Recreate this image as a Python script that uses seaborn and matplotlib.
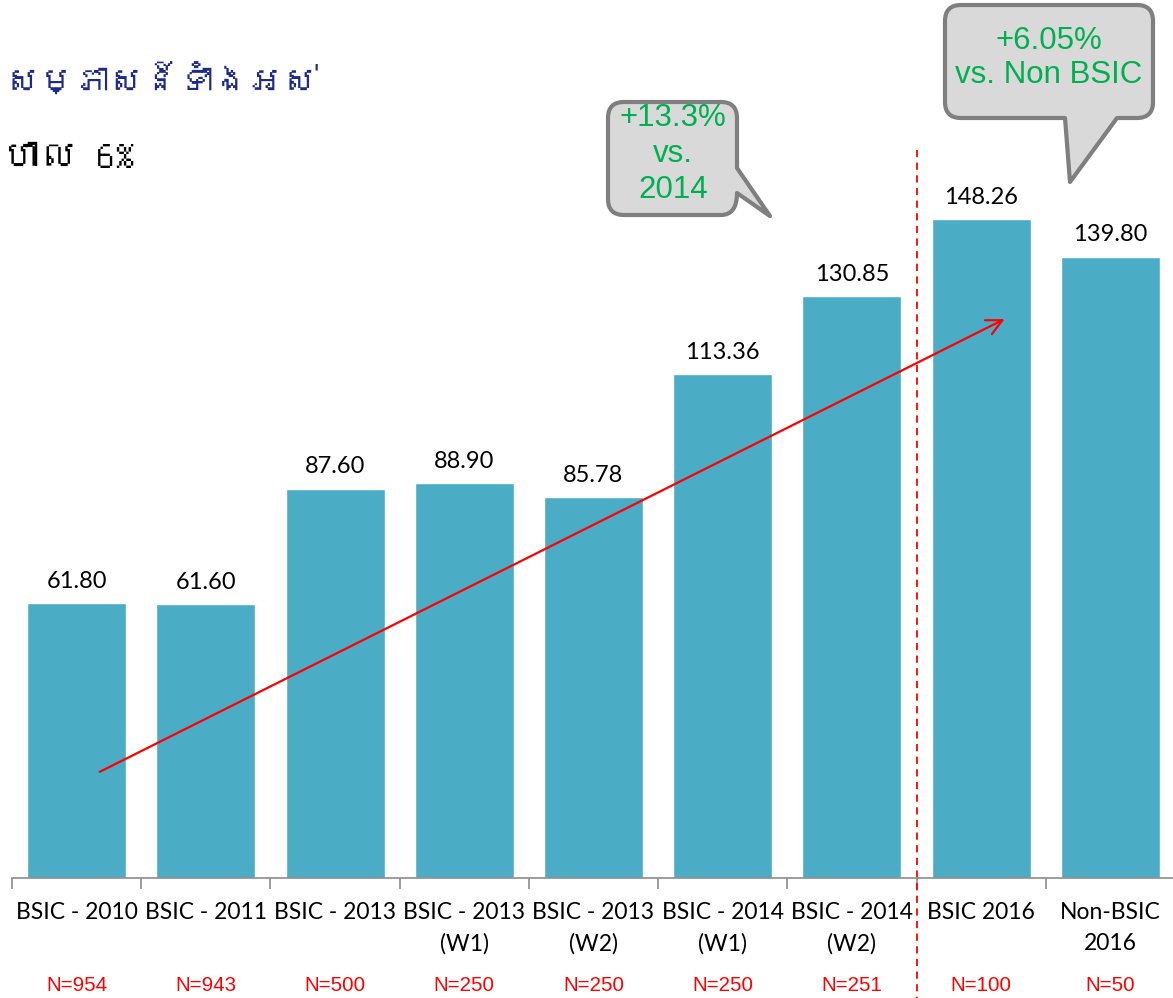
import numpy as np
import pandas as pd
import matplotlib
matplotlib.use("Agg")
import matplotlib.pyplot as plt
import seaborn as sns
from matplotlib import font_manager
from matplotlib.path import Path
from matplotlib.patches import PathPatch
from matplotlib.ft2font import FT2Font

# ---------------- data ----------------
categories = ["BSIC - 2010", "BSIC - 2011", "BSIC - 2013", "BSIC - 2013\n(W1)",
              "BSIC - 2013\n(W2)", "BSIC - 2014\n(W1)", "BSIC - 2014\n(W2)",
              "BSIC 2016", "Non-BSIC\n2016"]
values = [61.80, 61.60, 87.60, 88.90, 85.78, 113.36, 130.85, 148.26, 139.80]
sample_sizes = ["N=954", "N=943", "N=500", "N=250", "N=250", "N=250", "N=251", "N=100", "N=50"]
title_line1 = "សម្ភាសន៍ទាំងអស់"
title_line2 = "ហាល 6%"
callout1 = "+13.3%\nvs.\n2014"
callout2 = "+6.05%\nvs. Non BSIC"

# ---------------- fonts ----------------
sns.set_theme(style="white")
khmer_family = None
for f in font_manager.fontManager.ttflist:
    try:
        if 0x179F in FT2Font(f.fname).get_charmap():
            khmer_family = f.name
            break
    except Exception:
        pass
base_fam = ["Lato", "DejaVu Sans"]
kh_fam = ([khmer_family] if khmer_family else []) + ["DejaVu Sans"]
arial_fam = ["Liberation Sans", "DejaVu Sans"]
plt.rcParams["font.family"] = base_fam

W, H = 1173, 998
fig = plt.figure(figsize=(W / 100, H / 100), dpi=100)
ax = fig.add_axes([12 / W, 120 / H, 1163 / W, 878 / H])

df = pd.DataFrame({"cat": categories, "val": values})
sns.barplot(data=df, x="cat", y="val", color="#4BACC6", saturation=1,
            width=0.766, ax=ax)
ax.set_xlim(-0.5, 8.5)
ax.set_ylim(0, 197.5)
ax.set_xlabel("")
ax.set_ylabel("")
ax.set_yticks([])
for s in ["left", "right", "top"]:
    ax.spines[s].set_visible(False)
ax.spines["bottom"].set_color("#8C8C8C")
ax.spines["bottom"].set_linewidth(1.2)

ax.set_xticks(np.arange(len(categories)))
ax.set_xticklabels(categories, fontsize=16.5, color="black")
for lbl in ax.get_xticklabels():
    lbl.set_linespacing(1.58)
ax.set_xticks(np.arange(-0.5, len(categories), 1), minor=True)
ax.tick_params(axis="x", which="major", length=0, pad=17.5)
ax.tick_params(axis="x", which="minor", length=8, width=1.2, color="#8C8C8C", bottom=True)

ax.bar_label(ax.containers[0], fmt="%.2f", padding=8, fontsize=17, color="black")

# N labels
for i, n in enumerate(sample_sizes):
    ax.text(i, -0.1225, n, transform=ax.get_xaxis_transform(), ha="center", va="center",
            color="red", fontsize=14.8, family=arial_fam)

# trend arrow
ax.annotate("", xy=(7.2, 126), xytext=(0.16, 23.6),
            arrowprops=dict(arrowstyle="->", color="red", lw=1.6, mutation_scale=28))

# dashed separator
ax.plot([6.5, 6.5], [163.8, -27], color="red", lw=1.3, ls=(0, (4, 3)), clip_on=False)

# titles
fig.text(6 / W, 1 - 80 / H, title_line1, color="#1C2A8C", fontsize=25,
         ha="left", va="center", family=kh_fam)
fig.text(2 / W, 1 - 158 / H, title_line2, color="black", fontsize=27,
         ha="left", va="center", fontweight="bold", style="italic", family=kh_fam)

# speech bubbles (pixel coords, y downward)
def px(p):
    return (p[0] / W, 1 - p[1] / H)

def bubble(verts_codes):
    verts = [px(v) for v, c in verts_codes]
    codes = [c for v, c in verts_codes]
    patch = PathPatch(Path(verts, codes), facecolor="#D9D9D9", edgecolor="#7F7F7F",
                      lw=3, transform=fig.transFigure, joinstyle="round")
    fig.add_artist(patch)

M, L, C, Z = Path.MOVETO, Path.LINETO, Path.CURVE3, Path.CLOSEPOLY
r = 16
x0, y0, x1, y1 = 608, 102, 737, 215
bubble([((x0 + r, y0), M), ((x1 - r, y0), L), ((x1, y0), C), ((x1, y0 + r), C),
        ((x1, 168), L), ((770, 216), L), ((737, 193), L),
        ((737, y1), C), ((x1 - r, y1), C), ((x0 + r, y1), L),
        ((x0, y1), C), ((x0, y1 - r), C), ((x0, y0 + r), L),
        ((x0, y0), C), ((x0 + r, y0), C), ((x0 + r, y0), Z)])
x0, y0, x1, y1 = 945, 5, 1153, 118
bubble([((x0 + r, y0), M), ((x1 - r, y0), L), ((x1, y0), C), ((x1, y0 + r), C),
        ((x1, y1 - r), L), ((x1, y1), C), ((x1 - r, y1), C),
        ((1117, y1), L), ((1070, 182), L), ((1065, y1), L), ((x0 + r, y1), L),
        ((x0, y1), C), ((x0, y1 - r), C), ((x0, y0 + r), L),
        ((x0, y0), C), ((x0 + r, y0), C), ((x0 + r, y0), Z)])

fig.text(673 / W, 1 - 154 / H, callout1, color="#00B050", fontsize=22.5, ha="center",
         va="center", linespacing=1.24, family=arial_fam)
fig.text(1049 / W, 1 - 58 / H, callout2, color="#00B050", fontsize=22.5, ha="center",
         va="center", linespacing=1.21, family=arial_fam)

fig.savefig("out.png", dpi=100)
